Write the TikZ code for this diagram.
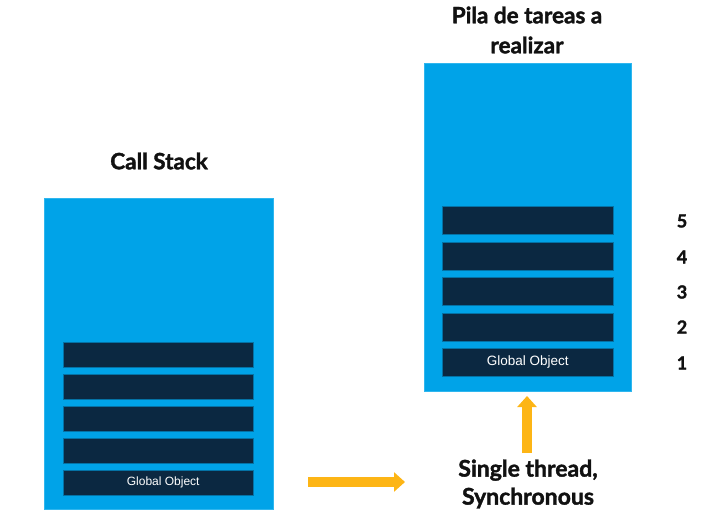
\documentclass[tikz,border=0pt]{standalone}
\usepackage{fontspec}
\setmainfont{Lato}[BoldFeatures={FakeBold=1.6}]
\newfontfamily\arialf{Liberation Sans}
\usetikzlibrary{arrows.meta}
\definecolor{stackblue}{HTML}{00A3E8}
\definecolor{stackedge}{HTML}{2FB6EE}
\definecolor{barnavy}{HTML}{0B2841}
\definecolor{arrorange}{HTML}{FDB515}
\definecolor{txtdark}{HTML}{111111}
\tikzset{
  stackbox/.style={draw=stackedge, line width=0.8pt, fill=stackblue, inner sep=0pt, anchor=north west},
  bar/.style={draw=stackblue!60!barnavy, line width=0.5pt, fill=barnavy, inner sep=0pt, anchor=north west, text=white, font=\arialf\fontsize{12}{14}\selectfont},
  title/.style={font=\bfseries\fontsize{22.5}{30}\selectfont, text=txtdark, align=center},
  num/.style={font=\bfseries\fontsize{18}{20}\selectfont, text=txtdark},
  arr/.style={draw=arrorange, line width=10pt, -{Triangle[width=19pt,length=11pt]}},
}
\begin{document}
\begin{tikzpicture}[x=1pt,y=-1pt]
\useasboundingbox (0,0) rectangle (701,516);
% left stack
\node[stackbox, minimum width=229pt, minimum height=311pt] (lbox) at (44,198) {};
\node[title] (ltitle) at (159,161) {Call Stack};
\node[bar, minimum width=190pt, minimum height=25pt] (l5) at (63,342) {};
\node[bar, minimum width=190pt, minimum height=25pt] (l4) at (63,374) {};
\node[bar, minimum width=190pt, minimum height=25pt] (l3) at (63,406) {};
\node[bar, minimum width=190pt, minimum height=25pt] (l2) at (63,438) {};
\node[bar, minimum width=190pt, minimum height=25pt] (l1) at (63,470) {\hspace*{10pt}\raisebox{-2pt}{Global Object}};
% right stack
\node[stackbox, minimum width=207pt, minimum height=328pt] (rbox) at (424,63) {};
\node[title] (rtitle) at (527,30) {Pila de tareas a\\realizar};
\node[bar, minimum width=171pt, minimum height=28pt] (r5) at (442,206) {};
\node[bar, minimum width=171pt, minimum height=28pt] (r4) at (442,242) {};
\node[bar, minimum width=171pt, minimum height=28pt] (r3) at (442,277) {};
\node[bar, minimum width=171pt, minimum height=28pt] (r2) at (442,313) {};
\node[bar, minimum width=171pt, minimum height=28pt, font=\arialf\fontsize{13.5}{15}\selectfont] (r1) at (442,348) {\raisebox{-2pt}{Global Object}};
% numbers
\node[num] (n5) at (682,221) {5};
\node[num] (n4) at (682,257) {4};
\node[num] (n3) at (682,292) {3};
\node[num] (n2) at (682,327) {2};
\node[num] (n1) at (682,363) {1};
% caption
\node[title, font=\bfseries\fontsize{23}{28}\selectfont] (st) at (528,484) {Single thread,\\Synchronous};
% arrows
\coordinate (ha) at (308,482);
\coordinate (hb) at (405,482);
\draw[arr] (ha) -- (hb);
\coordinate (va) at (527,453);
\coordinate (vb) at (527,396);
\draw[arr] (va) -- (vb);
\end{tikzpicture}
\end{document}
